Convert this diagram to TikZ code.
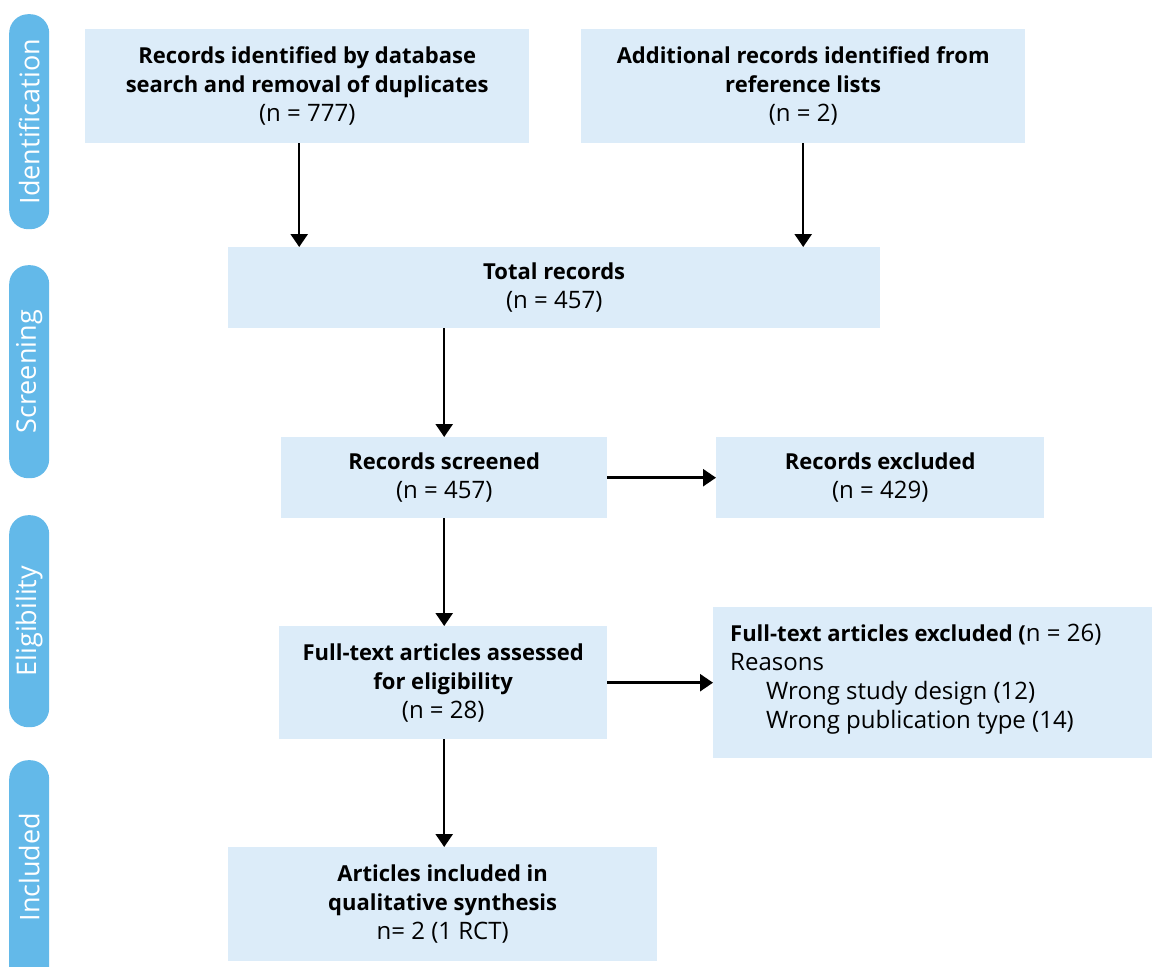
\documentclass[tikz,border=0pt]{standalone}
\usepackage{fontspec}
\setmainfont{Open Sans}
\usetikzlibrary{arrows.meta}
\definecolor{boxfill}{RGB}{220,236,249}
\definecolor{pillfill}{RGB}{99,185,233}
\newcommand\rgtext[1]{{\fontsize{24}{29}\selectfont #1}}
\tikzset{
  box/.style={fill=boxfill, draw=none, inner sep=0pt, anchor=north west, align=center,
    font=\fontsize{22}{29}\selectfont},
  pill/.style={fill=pillfill, draw=none, rounded corners=19pt, inner sep=0pt, anchor=north west},
  pilltext/.style={text=white, rotate=90, font=\fontsize{27}{30}\selectfont},
  arr/.style={line width=2.5pt, -{Triangle[length=13pt,width=17pt]}}
}
\begin{document}
\begin{tikzpicture}[x=1pt,y=-1pt]
\clip (0,0) rectangle (1152,967);
\fill[white] (0,0) rectangle (1152,967);
% side pills
\node[pill, minimum width=40, minimum height=215] (p1) at (9,14) {};
\node[pilltext] (t1) at (p1.center) {Identification};
\node[pill, minimum width=40, minimum height=213] (p2) at (9,265) {};
\node[pilltext] (t2) at (p2.center) {Screening};
\node[pill, minimum width=40, minimum height=212] (p3) at (9,515) {};
\node[pilltext] (t3) at (p3.center) {Eligibility};
\node[pill, minimum width=40, minimum height=240] (p4) at (9,760) {};
\node[pilltext] (t4) at ([yshift=13pt]p4.center) {Included};
% boxes
\node[box, minimum width=444, minimum height=114] (rid) at (85,29)
  {\textbf{Records identified by database}\\\textbf{search and removal of duplicates}\\\rgtext{(n = 777)}};
\node[box, minimum width=444, minimum height=114] (add) at (581,29)
  {\textbf{Additional records identified from}\\\textbf{reference lists}\\\rgtext{(n = 2)}};
\node[box, minimum width=652, minimum height=81] (tot) at (228,247)
  {\textbf{Total records}\\\rgtext{(n = 457)}};
\node[box, minimum width=326, minimum height=81] (scr) at (281,437)
  {\textbf{Records screened}\\\rgtext{(n = 457)}};
\node[box, minimum width=328, minimum height=81] (exc) at (716,437)
  {\textbf{Records excluded}\\\rgtext{(n = 429)}};
\node[box, minimum width=328, minimum height=113] (ft) at (279,626)
  {\textbf{Full-text articles assessed}\\\textbf{for eligibility}\\\rgtext{(n = 28)}};
\node[box, minimum width=440, minimum height=151] (fte) at (713,607) {};
\node[anchor=base west, inner sep=0pt, font=\fontsize{22}{29}\selectfont] (ftet) at (730,641)
  {\begin{tabular}[t]{@{}l@{}}\textbf{Full-text articles excluded (}\rgtext{n = 26)}\\\rgtext{Reasons}\\\hspace*{36pt}\rgtext{Wrong study design (12)}\\\hspace*{36pt}\rgtext{Wrong publication type (14)}\end{tabular}};
\node[box, minimum width=429, minimum height=114] (inc) at (228,847)
  {\textbf{Articles included in}\\\textbf{qualitative synthesis}\\\rgtext{n= 2 (1 RCT)}};
% arrows
\draw[arr] ([xshift=-8pt]rid.south) -- ([xshift=-8pt]rid.south |- tot.north);
\draw[arr] (add.south) -- (add.south |- tot.north);
\draw[arr] (scr.north |- tot.south) -- (scr.north);
\draw[arr] (scr.south) -- (scr.south |- ft.north);
\draw[arr] (scr.south |- ft.south) -- (scr.south |- inc.north);
\draw[arr] (scr.east) -- (exc.west);
\draw[arr] (ft.east) -- (fte.west |- ft.east);
\end{tikzpicture}
\end{document}
